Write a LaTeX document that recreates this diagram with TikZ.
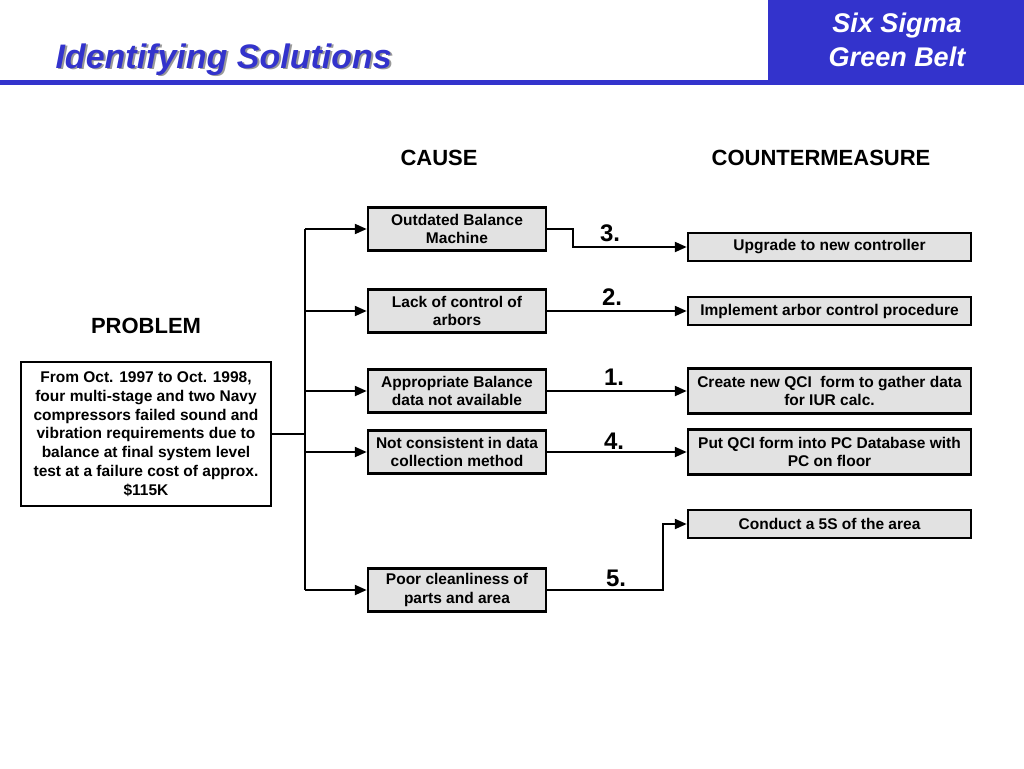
\documentclass[tikz,border=0pt]{standalone}
\usepackage{fontspec}
\setmainfont{Liberation Sans}
\usetikzlibrary{arrows.meta,positioning}
\definecolor{slideBlue}{RGB}{51,51,204}
\definecolor{boxGray}{RGB}{226,226,226}

\begin{document}
\begin{tikzpicture}[x=1pt, y=-1pt,
    boxtext/.style={font=\bfseries\fontsize{15.5}{18.8}\selectfont, align=center, inner sep=0pt},
    causebox/.style={boxtext, draw, line width=2.5pt, fill=boxGray, minimum width=178pt, minimum height=43pt},
    fixbox/.style={boxtext, draw, line width=2.5pt, fill=boxGray, minimum width=283pt, minimum height=#1},
    fixbox/.default=28pt,
    heading/.style={font=\bfseries\fontsize{22}{26}\selectfont},
    steplabel/.style={font=\bfseries\fontsize{24}{28}\selectfont},
    link/.style={line width=2.2pt, -{Triangle[length=12pt,width=10pt]}}]

    % Page and header band
    \useasboundingbox[fill=white] (0,0) rectangle (1024,768);
    \fill[slideBlue] (768,0) rectangle (1024,80);
    \fill[slideBlue] (0,80) rectangle (1024,85);

    % Title with its shadow
    \node[anchor=base west, text=black!40, font=\bfseries\itshape\fontsize{34}{38}\selectfont] (titleshadow) at (54,70) {Identifying Solutions};
    \node[anchor=base west, text=slideBlue, font=\bfseries\itshape\fontsize{34}{38}\selectfont] (title) at (52,68) {Identifying Solutions};
    \node[text=white, align=center, font=\bfseries\itshape\fontsize{27}{34}\selectfont] (belt) at (897,40) {Six Sigma\\Green Belt};

    % Column headings
    \node[heading] (causehead) at (439,158) {CAUSE};
    \node[heading] (fixhead) at (821,158) {COUNTERMEASURE};
    \node[heading] (probhead) at (146,326) {PROBLEM};

    % Problem statement
    \node[boxtext, draw, line width=2.5pt, fill=white, minimum width=250pt, minimum height=144pt] (prob) at (146,434)
      {From Oct. 1997 to Oct. 1998,\\four multi-stage and two Navy\\compressors failed sound and\\vibration requirements due to\\balance at final system level\\test at a failure cost of approx.\\\$115K};

    % Causes
    \node[causebox] (c1) at (457,229) {Outdated Balance\\Machine};
    \node[causebox] (c2) at (457,311) {Lack of control of\\arbors};
    \node[causebox] (c3) at (457,391) {Appropriate Balance\\data not available};
    \node[causebox] (c4) at (457,452) {Not consistent in data\\collection method};
    \node[causebox] (c5) at (457,590) {Poor cleanliness of\\parts and area};

    % Countermeasures
    \node[fixbox] (m1) at (829.5,247) {Upgrade to new controller};
    \node[fixbox] (m2) at (829.5,311) {Implement arbor control procedure};
    \node[fixbox=45pt] (m3) at (829.5,391) {Create new QCI\ \ form to gather data\\for IUR calc.};
    \node[fixbox=45pt] (m4) at (829.5,452) {Put QCI form into PC Database with\\PC on floor};
    \node[fixbox] (m5) at (829.5,524) {Conduct a 5S of the area};

    % Trunk from the problem to every cause
    \coordinate (trunk) at (305,434);
    \draw[line width=2.2pt] (prob.east) -- (trunk);
    \draw[line width=2.2pt] (trunk |- c1.west) -- (trunk |- c5.west);
    \foreach \c in {c1,c2,c3,c4,c5}
      \draw[link] (trunk |- \c.west) -- (\c.west);

    % Cause to countermeasure
    \draw[link] (c1.east) -- ++(26,0) |- (m1.west);
    \draw[link] (c2.east) -- (m2.west);
    \draw[link] (c3.east) -- (m3.west);
    \draw[link] (c4.east) -- (m4.west);
    \draw[link] (c5.east) -- ++(116,0) |- (m5.west);

    % Priority numbers
    \node[steplabel] (n3) at (610,233) {3.};
    \node[steplabel] (n2) at (612,297) {2.};
    \node[steplabel] (n1) at (614,377) {1.};
    \node[steplabel] (n4) at (614,441) {4.};
    \node[steplabel] (n5) at (616,578) {5.};
\end{tikzpicture}
\end{document}
